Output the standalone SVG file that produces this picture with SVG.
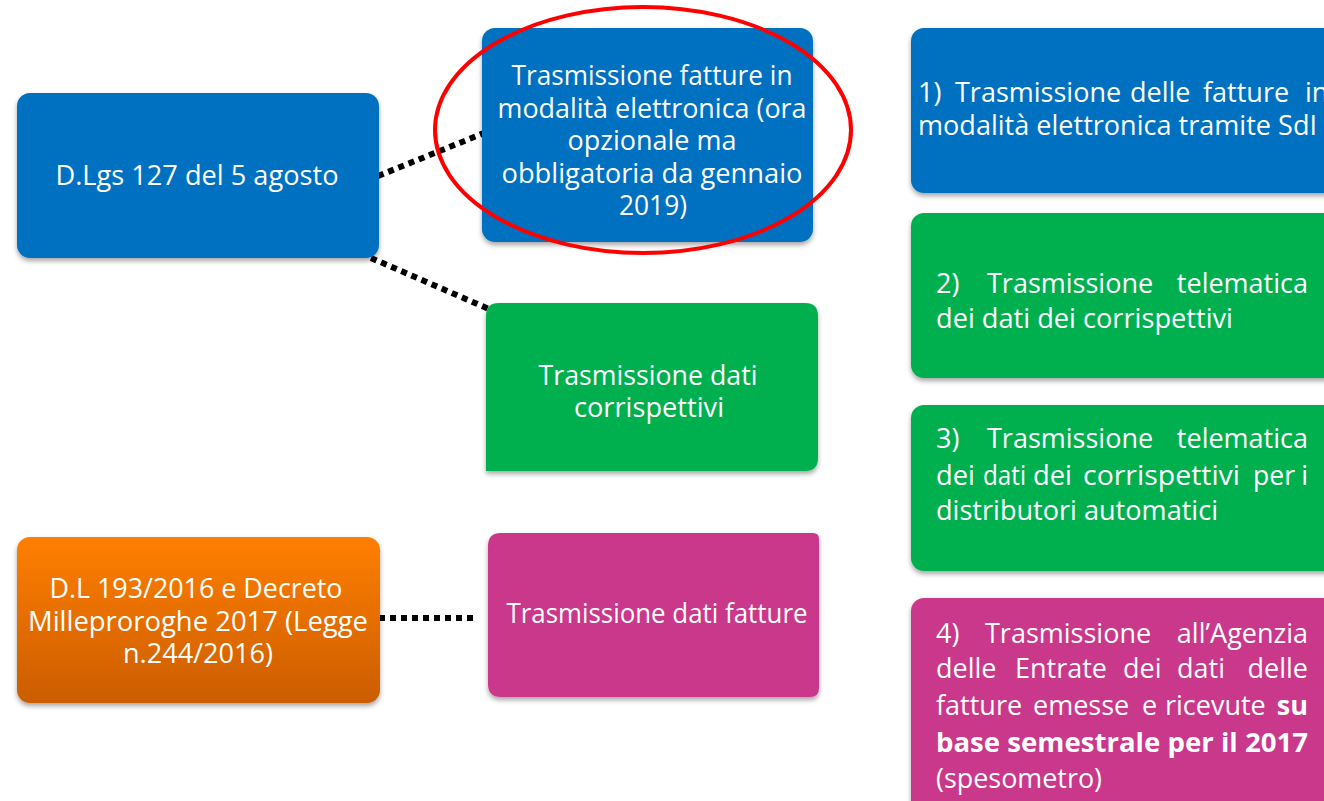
<svg xmlns="http://www.w3.org/2000/svg" width="1324" height="801" viewBox="0 0 1324 801">
<defs>
<filter id="sh" x="-10%" y="-10%" width="120%" height="130%">
<feDropShadow dx="0" dy="3" stdDeviation="2.5" flood-color="#000" flood-opacity="0.35"/>
</filter>
<linearGradient id="og" x1="0" y1="0" x2="0" y2="1">
<stop offset="0" stop-color="#FF7F00"/>
<stop offset="1" stop-color="#CB5D00"/>
</linearGradient>
</defs>
<style>
.box{filter:url(#sh);}
.blue{fill:#0070C0;}
.green{fill:#00B050;}
.mag{fill:#C9398A;}
.org{fill:url(#og);}
text{font-family:"Open Sans","Noto Sans","Liberation Sans",sans-serif;fill:#fff;font-size:28px;}
.r{font-size:27px;}
.c{text-anchor:middle;}
.e{text-anchor:end;}
.b{font-weight:bold;}
.con{stroke:#000;stroke-width:6;stroke-dasharray:6 5;fill:none;}
</style>
<rect width="1324" height="801" fill="#fff"/>
<g id="connectors">
<line class="con" x1="378" y1="176" x2="484" y2="133"/>
<line class="con" x1="371" y1="258" x2="489" y2="309"/>
<line class="con" x1="379" y1="618" x2="477" y2="618"/>
</g>
<g id="n-dlgs">
<rect class="box blue" x="17" y="93" width="362" height="165" rx="13"/>
<text x="197" y="185" class="c" textLength="283" lengthAdjust="spacingAndGlyphs">D.Lgs 127 del 5 agosto</text>
</g>
<g id="n-fatture-el">
<rect class="box blue" x="482" y="28" width="331" height="214" rx="13"/>
<text x="652" y="85" class="c" textLength="281" lengthAdjust="spacingAndGlyphs">Trasmissione fatture in</text>
<text x="652" y="118" class="c" textLength="309" lengthAdjust="spacingAndGlyphs">modalità elettronica (ora</text>
<text x="652" y="150" class="c" textLength="169" lengthAdjust="spacingAndGlyphs">opzionale ma</text>
<text x="652" y="183" class="c" textLength="301" lengthAdjust="spacingAndGlyphs">obbligatoria da gennaio</text>
<text x="653" y="215" class="c" textLength="68" lengthAdjust="spacingAndGlyphs">2019)</text>
</g>
<g id="n-corrispettivi">
<path class="box green" d="M486 316Q486 303 499 303L805 303Q818 303 818 316L818 458Q818 471 805 471L486 471Z"/>
<text x="648" y="385" class="c" textLength="219" lengthAdjust="spacingAndGlyphs">Trasmissione dati</text>
<text x="649" y="417" class="c" textLength="150" lengthAdjust="spacingAndGlyphs">corrispettivi</text>
</g>
<g id="n-dl193">
<rect class="box org" x="17" y="537" width="363" height="166" rx="13"/>
<text x="196" y="598" class="c" textLength="293" lengthAdjust="spacingAndGlyphs">D.L 193/2016 e Decreto</text>
<text x="198" y="631" class="c" textLength="340" lengthAdjust="spacingAndGlyphs">Milleproroghe 2017 (Legge</text>
<text x="198" y="663" class="c" textLength="150" lengthAdjust="spacingAndGlyphs">n.244/2016)</text>
</g>
<g id="n-dati-fatture">
<path class="box mag" d="M488 546Q488 533 501 533L813 533Q819 533 819 539L819 688Q819 697 810 697L501 697Q488 697 488 684Z"/>
<text x="657" y="623" class="c" textLength="301" lengthAdjust="spacingAndGlyphs">Trasmissione dati fatture</text>
</g>
<g id="n-r1">
<rect class="box blue" x="911" y="28" width="430" height="165" rx="13"/>
<text class="r" y="102"><tspan x="918">1)</tspan><tspan x="955">Trasmissione</tspan><tspan x="1130">delle</tspan><tspan x="1203">fatture</tspan><tspan x="1305">in</tspan></text>
<text class="r" x="918" y="135" textLength="399" lengthAdjust="spacingAndGlyphs">modalità elettronica tramite SdI</text>
</g>
<g id="n-r2">
<rect class="box green" x="911" y="213" width="430" height="165" rx="13"/>
<text class="r" y="293"><tspan x="936">2)</tspan><tspan x="987">Trasmissione</tspan></text>
<text class="r e" x="1308" y="293">telematica</text>
<text class="r" x="936" y="328" textLength="297" lengthAdjust="spacingAndGlyphs">dei dati dei corrispettivi</text>
</g>
<g id="n-r3">
<rect class="box green" x="911" y="405" width="430" height="166" rx="13"/>
<text class="r" y="448"><tspan x="936">3)</tspan><tspan x="987">Trasmissione</tspan></text>
<text class="r e" x="1308" y="448">telematica</text>
<text class="r" x="936" y="485" textLength="39" lengthAdjust="spacingAndGlyphs">dei</text>
<text class="r" x="983" y="485" textLength="43" lengthAdjust="spacingAndGlyphs">dati</text>
<text class="r" x="1033" y="485" textLength="39" lengthAdjust="spacingAndGlyphs">dei</text>
<text class="r" x="1083" y="485" textLength="157" lengthAdjust="spacingAndGlyphs">corrispettivi</text>
<text class="r" x="1253" y="485" textLength="42" lengthAdjust="spacingAndGlyphs">per</text>
<text class="r e" x="1308" y="485">i</text>
<text class="r" x="936" y="520" textLength="282" lengthAdjust="spacingAndGlyphs">distributori automatici</text>
</g>
<g id="n-r4">
<rect class="box mag" x="911" y="598" width="430" height="220" rx="13"/>
<text class="r" y="643"><tspan x="936">4)</tspan><tspan x="985">Trasmissione</tspan></text>
<text class="r e" x="1308" y="643">all’Agenzia</text>
<text class="r" y="678"><tspan x="936">delle</tspan><tspan x="1015">Entrate</tspan><tspan x="1123">dei</tspan><tspan x="1177">dati</tspan></text>
<text class="r e" x="1308" y="678">delle</text>
<text class="r" y="715"><tspan x="936">fatture</tspan><tspan x="1033">emesse</tspan><tspan x="1142">e</tspan><tspan x="1165">ricevute</tspan></text>
<text class="r e b" x="1308" y="715">su</text>
<text class="r b" x="936" y="752" textLength="372" lengthAdjust="spacingAndGlyphs">base semestrale per il 2017</text>
<text class="r" x="936" y="788" textLength="166" lengthAdjust="spacingAndGlyphs">(spesometro)</text>
</g>
<g id="highlight">
<ellipse cx="643" cy="130" rx="208" ry="123" fill="none" stroke="#FF0000" stroke-width="4"/>
</g>
</svg>
